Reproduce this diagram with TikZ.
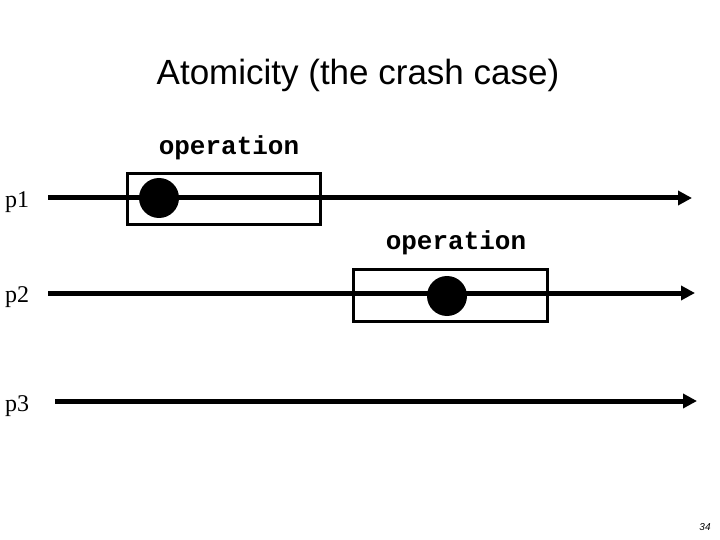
\documentclass[tikz,border=0pt]{standalone}
\usepackage{fontspec}
\setmainfont{Liberation Serif}
\newfontfamily\ttl{Liberation Sans}
\newfontfamily\mono{Liberation Mono}
\usetikzlibrary{arrows.meta}
\begin{document}
\begin{tikzpicture}[x=1pt,y=-1pt,
 proc/.style={line width=5pt,-{Triangle[length=14pt,width=14pt]}},
 box/.style={draw,line width=3pt},
 dot/.style={circle,fill=black,minimum size=40pt,inner sep=0pt},
 lbl/.style={font=\fontsize{24}{24}\selectfont,anchor=west,inner sep=0pt},
 op/.style={font=\mono\bfseries\fontsize{26}{26}\selectfont,inner sep=0pt}]
\useasboundingbox (0,0) rectangle (720,540);
\node (title) at (358,75) {\ttl\fontsize{35}{35}\selectfont Atomicity (the crash case)};
\node[lbl] (l1) at (5,202) {p1};
\node[lbl] (l2) at (5,297) {p2};
\node[lbl] (l3) at (5,406) {p3};
\coordinate (s1) at (48,198); \coordinate (e1) at (692,198);
\coordinate (s2) at (48,293); \coordinate (e2) at (695,293);
\coordinate (s3) at (55,401); \coordinate (e3) at (697,401);
\draw[proc] (s1) -- (e1);
\draw[proc] (s2) -- (e2);
\draw[proc] (s3) -- (e3);
\node[box,minimum width=193pt,minimum height=51pt] (b1) at (223.5,199.5) {};
\node[box,minimum width=194pt,minimum height=52pt] (b2) at (450,295) {};
\node[dot] (d1) at (159,198) {};
\node[dot] (d2) at (447,296) {};
\node[op] (o1) at (229,148) {operation};
\node[op] (o2) at (456,243) {operation};
\node (n) at (705,527) {\ttl\itshape\fontsize{10}{10}\selectfont 34};
\end{tikzpicture}
\end{document}
